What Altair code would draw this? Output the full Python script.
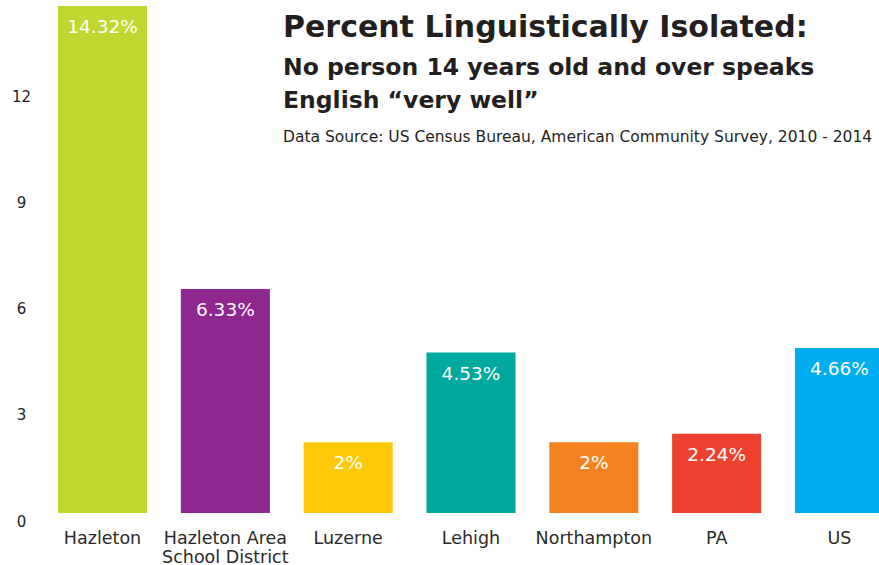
import altair as alt
import pandas as pd

categories = ["Hazleton", "Hazleton Area|School District", "Luzerne", "Lehigh",
              "Northampton", "PA", "US"]
values = [14.32, 6.33, 2.0, 4.53, 2.0, 2.24, 4.66]
labels = ["14.32%", "6.33%", "2%", "4.53%", "2%", "2.24%", "4.66%"]
colors = ["#BFD730", "#8E278F", "#FFC90B", "#00A99D", "#F58220", "#EF4130", "#00AEEF"]
y_ticks = [0, 3, 6, 9, 12]

title_lines = ["Percent Linguistically Isolated:",
               "No person 14 years old and over speaks",
               "English \u201cvery well\u201d",
               "Data Source: US Census Bureau, American Community Survey, 2010 - 2014"]

df = pd.DataFrame({"cat": categories, "value": values, "label": labels})

FONT = "DejaVu Sans"

x_scale = alt.Scale(range=[18, 844], paddingInner=0.275, paddingOuter=0)
y_scale = alt.Scale(domain=[0, 14.32], nice=False)

x_axis = alt.Axis(title=None, domain=False, ticks=False, tickSize=0, labelAngle=0,
                  grid=False,
                  labelExpr="split(datum.label, '|')",
                  labelFont=FONT, labelFontSize=17.5, labelFontWeight="normal",
                  labelColor="#2a2a2a", labelPadding=25, labelLineHeight=19,
                  labelBaseline="middle")
y_axis = alt.Axis(title=None, domain=False, ticks=False, tickSize=0, grid=False,
                  values=y_ticks, labelFont=FONT, labelFontSize=15,
                  labelFontWeight="normal", labelColor="#222222",
                  labelAlign="center", labelBaseline="middle",
                  labelPadding=19, labelOffset=8)

base = alt.Chart(df)
bars = base.mark_bar().encode(
    x=alt.X("cat:N", sort=categories, scale=x_scale, axis=x_axis),
    y=alt.Y("value:Q", scale=y_scale, axis=y_axis),
    color=alt.Color("cat:N", scale=alt.Scale(domain=categories, range=colors), legend=None),
)
text = base.mark_text(color="white", font=FONT, fontSize=18.5, fontWeight="normal",
                      baseline="middle", dy=21).encode(
    x=alt.X("cat:N", sort=categories, scale=x_scale, axis=x_axis),
    y=alt.Y("value:Q", scale=y_scale, axis=y_axis),
    text="label:N")

tdf = pd.DataFrame({"t": title_lines, "i": [0, 1, 2, 3]})
t0 = alt.Chart(tdf[tdf.i == 0]).mark_text(font=FONT, fontSize=30, fontWeight="bold",
                                          color="#231F20", align="left", baseline="middle").encode(
    text="t:N", x=alt.value(243), y=alt.value(22))
t1 = alt.Chart(tdf[tdf.i == 1]).mark_text(font=FONT, fontSize=23.5, fontWeight="bold",
                                          color="#231F20", align="left", baseline="middle").encode(
    text="t:N", x=alt.value(243), y=alt.value(62))
t2 = alt.Chart(tdf[tdf.i == 2]).mark_text(font=FONT, fontSize=23.5, fontWeight="bold",
                                          color="#231F20", align="left", baseline="middle").encode(
    text="t:N", x=alt.value(243), y=alt.value(95))
t3 = alt.Chart(tdf[tdf.i == 3]).mark_text(font=FONT, fontSize=15.5, fontWeight="normal",
                                          color="#231F20", align="left", baseline="middle").encode(
    text="t:N", x=alt.value(243), y=alt.value(131))

chart = alt.layer(bars, text, t0, t1, t2, t3).properties(
    width=839, height=507,
    background="white",
    autosize=alt.AutoSizeParams(type="none"),
    padding={"left": 40, "top": 6, "right": 0, "bottom": 52},
).configure_view(strokeWidth=0, stroke="transparent"
).configure_axis(domain=False, grid=False, ticks=False)

chart.save("out.html", embed_options={"renderer": "svg", "actions": False})
